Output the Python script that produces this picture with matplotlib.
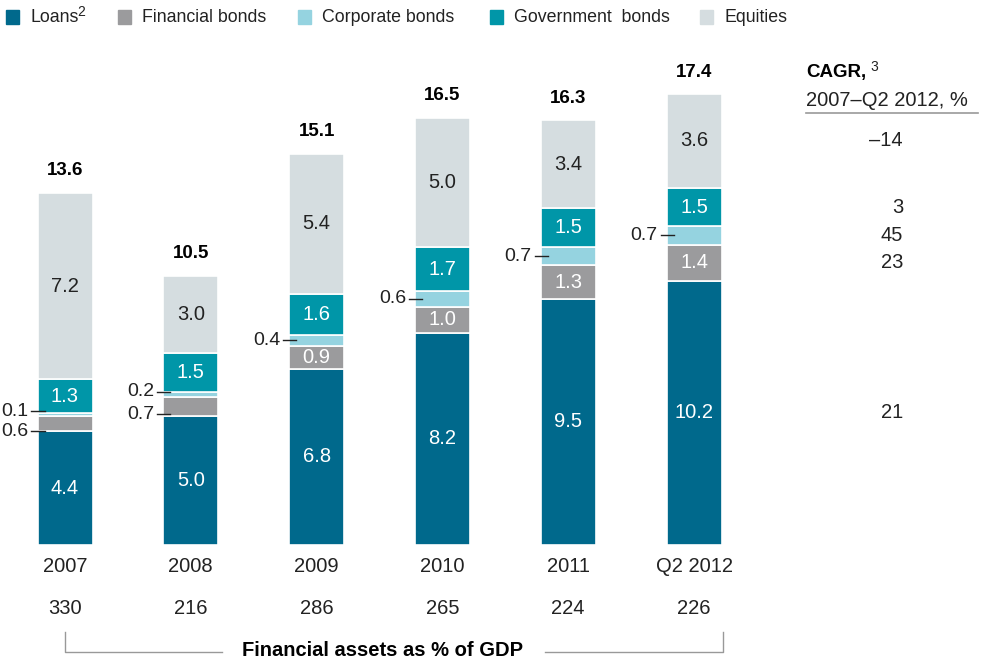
import matplotlib
matplotlib.use("Agg")
import matplotlib.pyplot as plt
from matplotlib.patches import Rectangle
from matplotlib.transforms import Affine2D

plt.rcParams['font.family'] = ['Liberation Sans', 'DejaVu Sans']

years = ['2007', '2008', '2009', '2010', '2011', 'Q2 2012']
totals = ['13.6', '10.5', '15.1', '16.5', '16.3', '17.4']
gdp_pct = ['330', '216', '286', '265', '224', '226']

loans = [4.4, 5.0, 6.8, 8.2, 9.5, 10.2]
fin_bonds = [0.6, 0.7, 0.9, 1.0, 1.3, 1.4]
corp_bonds = [0.1, 0.2, 0.4, 0.6, 0.7, 0.7]
gov_bonds = [1.3, 1.5, 1.6, 1.7, 1.5, 1.5]
equities = [7.2, 3.0, 5.4, 5.0, 3.4, 3.6]

series_names = ['Loans', 'Financial bonds', 'Corporate bonds', 'Government  bonds', 'Equities']
series = [loans, fin_bonds, corp_bonds, gov_bonds, equities]
colors = ['#00698c', '#9b9b9d', '#95d3e0', '#0096a8', '#d5dde0']
text_colors = ['white', 'white', '#222222', 'white', '#222222']

cagr = ['21', '23', '45', '3', '–14']  # same order as series

dark = '#222222'
W, H = 983, 661
fig = plt.figure(figsize=(W / 100, H / 100), dpi=100)
ax = fig.add_axes([0, 0, 1, 1])
# pixel helper (y measured from top)
px = Affine2D().scale(1 / W, -1 / H).translate(0, 1) + fig.transFigure

# axes span the whole figure; scale chosen so bars land where they are in the picture
step = 125.8
unit = 25.9
x0, base = 65, 545
ax.set_xlim(-x0 / step, (W - x0) / step)
ax.set_ylim(-(H - base) / unit, base / unit)
ax.axis('off')

xs = list(range(len(years)))
bw = 55 / step
bottoms = [0.0] * len(years)
for k, vals in enumerate(series):
    ax.bar(xs, vals, bw, bottom=bottoms, color=colors[k], edgecolor='white', linewidth=1.2)
    for i, v in enumerate(vals):
        yc = bottoms[i] + v / 2
        if k in (1, 2) and v < 0.8:
            # small segment: label on the left with a leader line
            nudge = 0.0
            if corp_bonds[i] < 0.3:
                # two stacked outside labels: spread them apart
                nudge = -0.3 if k == 1 else 0.12
            left = i - bw / 2
            ax.plot([left - 6 / step, left + 7 / step], [yc + nudge] * 2, color=dark, lw=1)
            ax.text(left - 9 / step, yc + nudge, f'{v:.1f}', ha='right', va='center',
                    fontsize=14, color=dark)
        else:
            ax.text(i, yc, f'{v:.1f}', ha='center', va='center', fontsize=14.5,
                    color=text_colors[k])
    bottoms = [b + v for b, v in zip(bottoms, vals)]

for i in xs:
    ax.text(i, bottoms[i] + 22 / unit, totals[i], ha='center', va='center',
            fontsize=13.5, fontweight='bold', color='black')
    ax.text(i, -21 / unit, years[i], ha='center', va='center', fontsize=14.5, color=dark)
    ax.text(i, -63 / unit, gdp_pct[i], ha='center', va='center', fontsize=14.5, color=dark)

# bracket under the GDP row
gray = '#999999'
ax.plot([65, 65, 222], [632, 652, 652], color=gray, lw=1, transform=px)
ax.plot([545, 723, 723], [652, 652, 632], color=gray, lw=1, transform=px)
ax.text(383, 651, 'Financial assets as % of GDP', ha='center', va='center',
        fontsize=14.5, fontweight='bold', color='black', transform=px)

# CAGR column, aligned with the last bar's segments
ax.text(806, 73, 'CAGR,', ha='left', va='center', fontsize=13.5, fontweight='bold',
        color='black', transform=px)
ax.text(870, 67, '3', ha='left', va='center', fontsize=10, color=dark, transform=px)
ax.text(806, 100, '2007–Q2 2012, %', ha='left', va='center', fontsize=14.5,
        color=dark, transform=px)
ax.plot([806, 978], [113, 113], color=gray, lw=1.2, transform=px)
last = len(years) - 1
b = 0.0
for k, vals in enumerate(series):
    yc = b + vals[last] / 2
    ax.text(903, base - yc * unit, cagr[k], ha='right', va='center', fontsize=14.5,
            color=dark, transform=px)
    b += vals[last]

# legend across the top
leg_x = [6, 118, 298, 490, 700]
for k, name in enumerate(series_names):
    ax.add_patch(Rectangle((leg_x[k], 24), 13, -14, color=colors[k], transform=px))
    ax.text(leg_x[k] + 24, 17, name, ha='left', va='center', fontsize=12.8,
            color=dark, transform=px)
ax.text(77, 12, '2', ha='left', va='center', fontsize=10, color=dark, transform=px)

fig.savefig('out.png', dpi=100)
